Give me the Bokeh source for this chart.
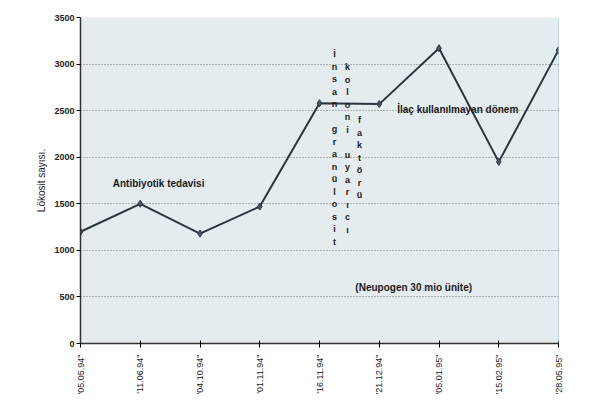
from bokeh.plotting import figure
from bokeh.models import Range1d, FixedTicker, Span, Label
from bokeh.core.properties import value
from bokeh.embed import file_html
from bokeh.resources import INLINE
import math

dates = ["'05.05.94\"", "'11.06.94\"", "'04.10.94\"", "'01.11.94\"", "'16.11.94\"",
         "'21.12.94\"", "'05.01.95\"", "'15.02.95\"", "'28.05.95\""]
leukocytes = [1200, 1500, 1180, 1470, 2580, 2570, 3170, 1950, 3150]
y_ticks = [0, 500, 1000, 1500, 2000, 2500, 3000, 3500]

FONT = "Liberation Sans"
xs = list(range(len(dates)))

p = figure(width=607, height=412, output_backend="svg", toolbar_location=None,
           x_range=Range1d(0, len(dates) - 1), y_range=Range1d(0, 3500),
           min_border_left=80, min_border_right=49, min_border_top=17, min_border_bottom=69)
p.background_fill_color = "#e4ecef"
p.border_fill_color = "white"
p.outline_line_color = None

p.xaxis.ticker = FixedTicker(ticks=xs)
p.xaxis.major_label_overrides = {i: d for i, d in enumerate(dates)}
p.xaxis.major_label_orientation = math.pi / 2
p.xaxis.major_label_text_font = FONT
p.xaxis.major_label_text_font_size = "9px"
p.xaxis.major_label_text_color = "#222222"
p.xaxis.major_label_standoff = 7
p.xaxis.major_tick_in = 3
p.xaxis.major_tick_out = 4
p.xaxis.minor_tick_line_color = None
p.xaxis.axis_line_color = "#333333"
p.xaxis.axis_line_width = 1.5

p.yaxis.ticker = FixedTicker(ticks=y_ticks)
p.yaxis.major_label_text_font = FONT
p.yaxis.major_label_text_font_style = "bold"
p.yaxis.major_label_text_font_size = "9px"
p.yaxis.major_label_text_color = "#222222"
p.yaxis.major_label_standoff = 2
p.yaxis.major_tick_in = 0
p.yaxis.major_tick_out = 4
p.yaxis.minor_tick_line_color = None
p.yaxis.axis_line_color = "#333333"
p.yaxis.axis_line_width = 1.5
p.yaxis.axis_label = "Lökosit sayısı."
p.yaxis.axis_label_text_font = FONT
p.yaxis.axis_label_text_font_style = "normal"
p.yaxis.axis_label_text_font_size = "10px"
p.yaxis.axis_label_text_color = "#222222"
p.yaxis.axis_label_standoff = 4

p.xgrid.grid_line_color = None
p.ygrid.grid_line_color = "#777777"
p.ygrid.grid_line_dash = "1 2"
p.ygrid.grid_line_width = 1

p.add_layout(Span(location=len(dates) - 1, dimension="height",
                  line_color="#8fb6d4", line_width=1))

p.line(xs, leukocytes, line_color="#2b3540", line_width=2)
p.scatter(xs, leukocytes, marker="diamond", size=7, fill_color="#4a5866",
          line_color="#2b3540")

def note(x, y, txt, size="10px"):
    p.add_layout(Label(x=x, y=y, text=txt, text_font=FONT, text_font_style="bold",
                       text_font_size=size, text_color="#1a1a1a",
                       text_baseline="middle", text_align="left"))

note(0.54, 1720, "Antibiyotik tedavisi")
note(5.3, 2510, "İlaç kullanılmayan dönem")
note(4.6, 600, "(Neupogen 30 mio ünite)")

vertical_words = ["İnsan granülosit", "koloni uyarıcı", "faktörü"]
vx = [4.25, 4.47, 4.67]
vy = [3160, 3020, 2450]
for w, x, y in zip(vertical_words, vx, vy):
    p.text(x=[x], y=[y], text=["\n".join(w)], text_font=value(FONT),
           text_font_style="bold", text_font_size="9px", text_color="#1a1a1a",
           text_align="center", text_baseline="top", text_line_height=1.25)

open("out.html", "w").write(file_html(p, INLINE))
